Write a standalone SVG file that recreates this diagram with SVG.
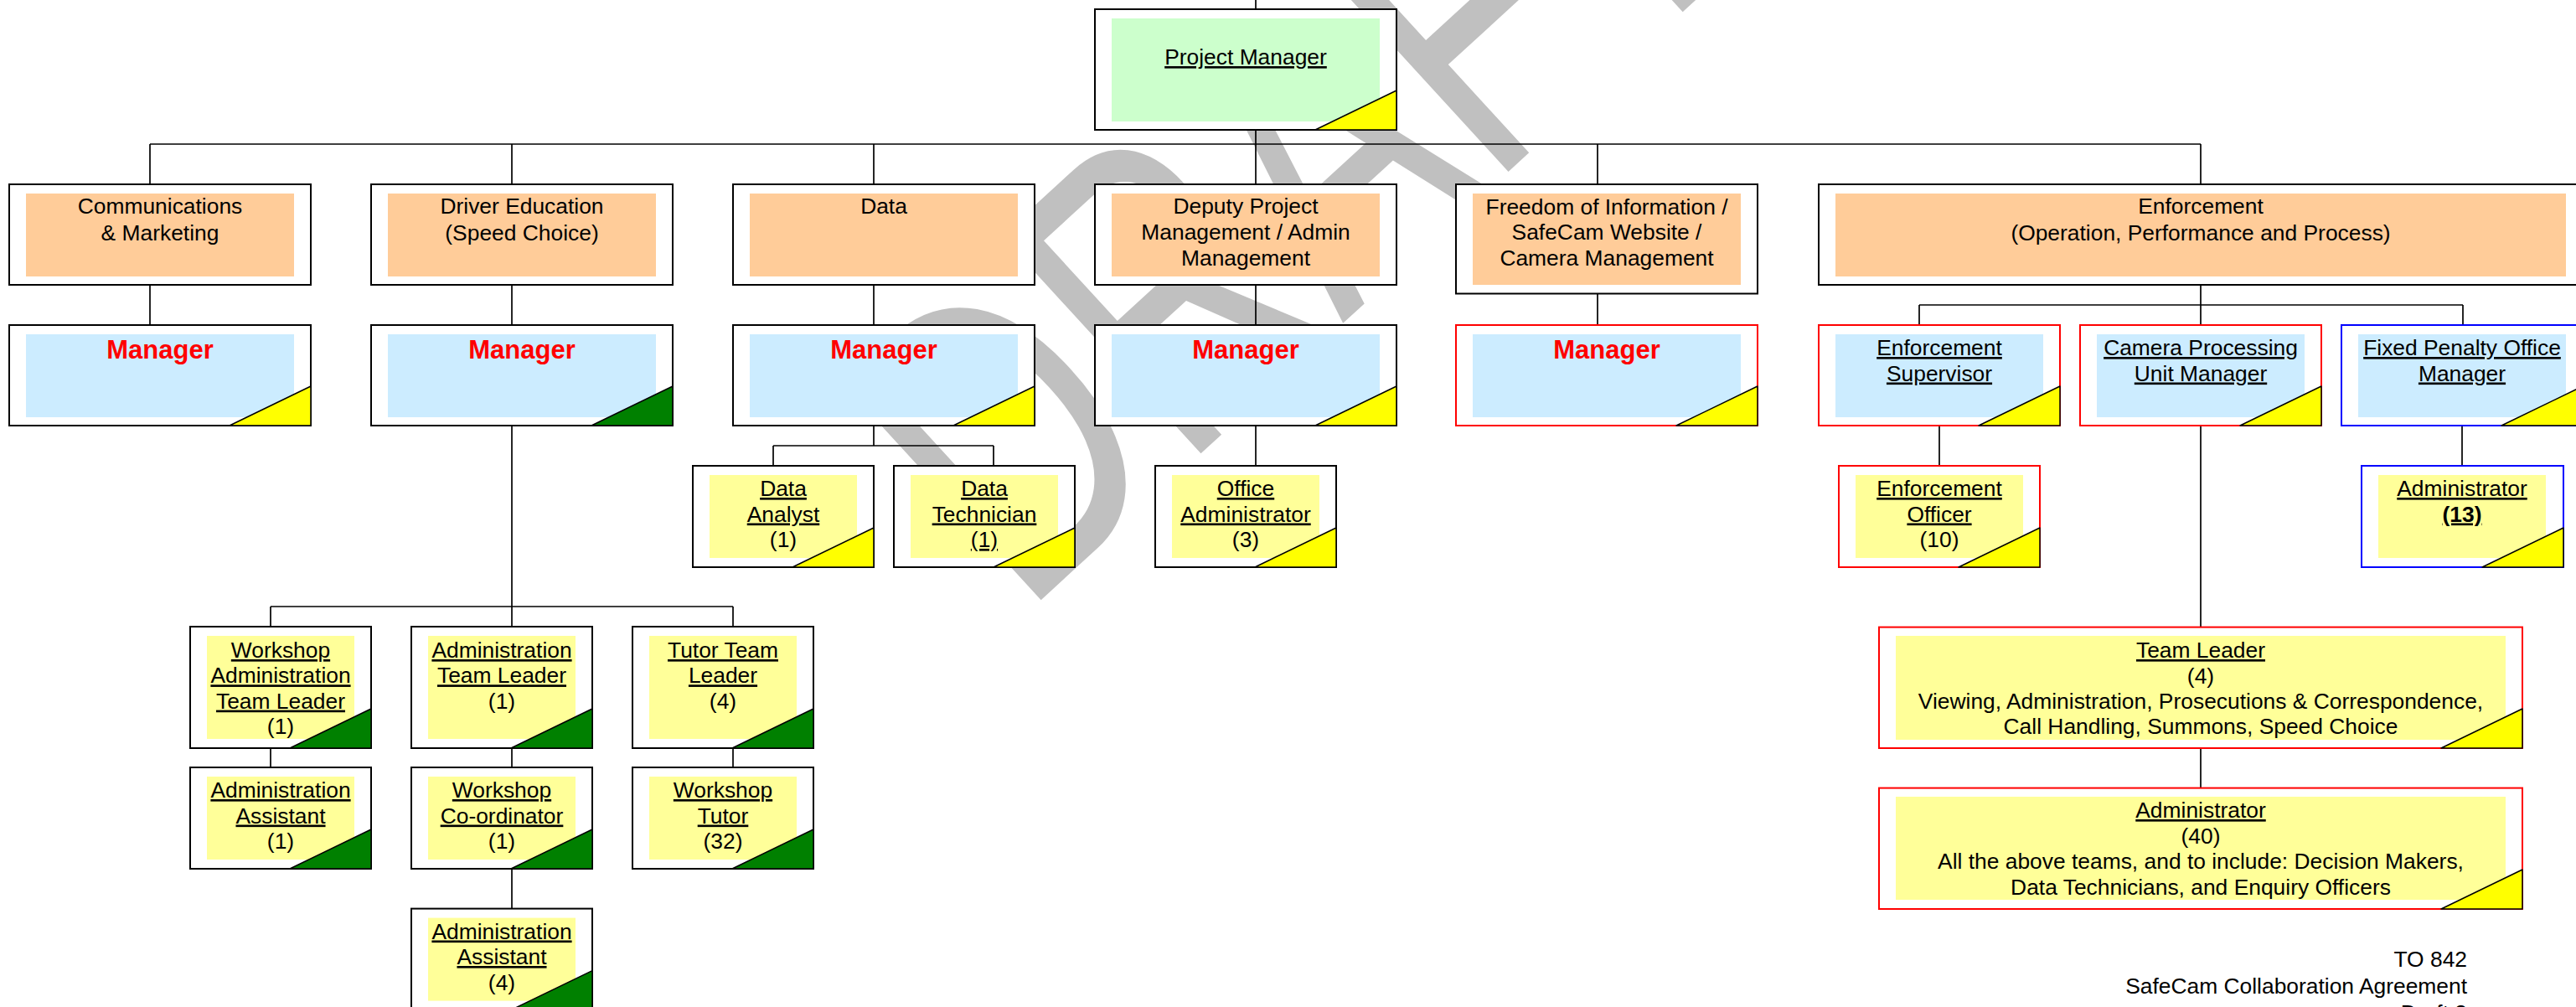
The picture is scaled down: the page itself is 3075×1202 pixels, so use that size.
<svg xmlns="http://www.w3.org/2000/svg" width="3075" height="1202" viewBox="0 0 3075 1202">
<style>
.bx{fill:#fff;stroke:#000;stroke-width:2}
.red{stroke:#f00}
.blu{stroke:#00f}
.pe{fill:#FFCC99}
.lb{fill:#CCECFF}
.lg{fill:#CCFFCC}
.ly{fill:#FFFF99}
.ty{fill:#FFFF00;stroke:#000;stroke-width:1.5;stroke-linejoin:round}
.tg{fill:#008000;stroke:#000;stroke-width:1.5;stroke-linejoin:round}
.c{stroke:#000;stroke-width:1.7;fill:none}
text{font-family:"Liberation Sans",Arial,Helvetica,sans-serif;font-size:26.4px;fill:#000;text-anchor:middle}
.u{text-decoration:underline}
.m{font-weight:bold;fill:#f00;font-size:31px}
.b{font-weight:bold}
.r{text-anchor:end}
.wm{fill:#C0C0C0;font-size:512px;text-anchor:start}
</style>
<rect width="3075" height="1202" fill="#fff"/>
<text class="wm" transform="translate(1221,736) rotate(-42.5) scale(0.70,1)">DRAFT</text>
<g id="connectors" class="c">
<path d="M1499,0V11M1499,155V172M179,172H2627M179,172V220M611,172V220M1043,172V220M1499,172V220M1907,172V220M2627,172V220"/>
<path d="M179,340V388M611,340V388M1043,340V388M1499,340V388M1907,350V388M2627,340V388M2291,364H2940M2291,364V388M2940,364V388"/>
<path d="M1043,508V532M923,532H1186M923,532V556M1186,532V556M1499,508V556"/>
<path d="M611,508V724M323,724H875M323,724V748M611,724V748M875,724V748M323,893V916M611,893V916M875,893V916M611,1037V1085"/>
<path d="M2315,508V556M2627,508V749M2627,893V941M2939,508V556"/>
</g>
<g id="project-manager">
<rect class="bx" x="1307" y="11" width="360" height="144"/>
<rect class="lg" x="1327" y="22" width="320" height="123"/>
<text class="u" x="1487" y="77">Project Manager</text>
<polygon class="ty" points="1570,155 1667,108 1667,155"/>
</g>
<g id="communications">
<rect class="bx" x="11" y="220" width="360" height="120"/>
<rect class="pe" x="31" y="231" width="320" height="99"/>
<text x="191" y="255">Communications</text>
<text x="191" y="286.5">&amp; Marketing</text>
</g>
<g id="communications-manager">
<rect class="bx" x="11" y="388" width="360" height="120"/>
<rect class="lb" x="31" y="399" width="320" height="99"/>
<text class="m" x="191" y="428">Manager</text>
<polygon class="ty" points="274,508 371,461 371,508"/>
</g>
<g id="driver-education">
<rect class="bx" x="443" y="220" width="360" height="120"/>
<rect class="pe" x="463" y="231" width="320" height="99"/>
<text x="623" y="255">Driver Education</text>
<text x="623" y="286.5">(Speed Choice)</text>
</g>
<g id="driver-education-manager">
<rect class="bx" x="443" y="388" width="360" height="120"/>
<rect class="lb" x="463" y="399" width="320" height="99"/>
<text class="m" x="623" y="428">Manager</text>
<polygon class="tg" points="706,508 803,461 803,508"/>
</g>
<g id="data">
<rect class="bx" x="875" y="220" width="360" height="120"/>
<rect class="pe" x="895" y="231" width="320" height="99"/>
<text x="1055" y="255">Data</text>
</g>
<g id="data-manager">
<rect class="bx" x="875" y="388" width="360" height="120"/>
<rect class="lb" x="895" y="399" width="320" height="99"/>
<text class="m" x="1055" y="428">Manager</text>
<polygon class="ty" points="1138,508 1235,461 1235,508"/>
</g>
<g id="deputy">
<rect class="bx" x="1307" y="220" width="360" height="120"/>
<rect class="pe" x="1327" y="231" width="320" height="99"/>
<text x="1487" y="255">Deputy Project</text>
<text x="1487" y="286">Management / Admin</text>
<text x="1487" y="317">Management</text>
</g>
<g id="deputy-manager">
<rect class="bx" x="1307" y="388" width="360" height="120"/>
<rect class="lb" x="1327" y="399" width="320" height="99"/>
<text class="m" x="1487" y="428">Manager</text>
<polygon class="ty" points="1570,508 1667,461 1667,508"/>
</g>
<g id="foi">
<rect class="bx" x="1738" y="220" width="360" height="130.5"/>
<rect class="pe" x="1758" y="231" width="320" height="109"/>
<text x="1918" y="255.5">Freedom of Information /</text>
<text x="1918" y="286">SafeCam Website /</text>
<text x="1918" y="316.5">Camera Management</text>
</g>
<g id="foi-manager">
<rect class="bx red" x="1738" y="388" width="360" height="120"/>
<rect class="lb" x="1758" y="399" width="320" height="99"/>
<text class="m" x="1918" y="428">Manager</text>
<polygon class="ty" points="2001,508 2098,461 2098,508"/>
</g>
<g id="enforcement">
<rect class="bx" x="2171" y="220" width="912" height="120"/>
<rect class="pe" x="2191" y="231" width="872" height="99"/>
<text x="2627" y="255">Enforcement</text>
<text x="2627" y="286.5">(Operation, Performance and Process)</text>
</g>
<g id="enforcement-supervisor">
<rect class="bx red" x="2171" y="388" width="288" height="120"/>
<rect class="lb" x="2191" y="399" width="248" height="99"/>
<text class="u" x="2315" y="424">Enforcement</text>
<text class="u" x="2315" y="454.5">Supervisor</text>
<polygon class="ty" points="2362,508 2459,461 2459,508"/>
</g>
<g id="camera-processing">
<rect class="bx red" x="2483" y="388" width="288" height="120"/>
<rect class="lb" x="2503" y="399" width="248" height="99"/>
<text class="u" x="2627" y="424">Camera Processing</text>
<text class="u" x="2627" y="454.5">Unit Manager</text>
<polygon class="ty" points="2674,508 2771,461 2771,508"/>
</g>
<g id="fixed-penalty">
<rect class="bx blu" x="2795" y="388" width="288" height="120"/>
<rect class="lb" x="2815" y="399" width="248" height="99"/>
<text class="u" x="2939" y="424">Fixed Penalty Office</text>
<text class="u" x="2939" y="454.5">Manager</text>
<polygon class="ty" points="2986,508 3083,461 3083,508"/>
</g>
<g id="data-analyst">
<rect class="bx" x="827" y="556" width="216" height="121"/>
<rect class="ly" x="847" y="567" width="176" height="99"/>
<text class="u" x="935" y="592">Data</text>
<text class="u" x="935" y="622.5">Analyst</text>
<text x="935" y="653">(1)</text>
<polygon class="ty" points="946,677 1043,630 1043,677"/>
</g>
<g id="data-technician">
<rect class="bx" x="1067" y="556" width="216" height="121"/>
<rect class="ly" x="1087" y="567" width="176" height="99"/>
<text class="u" x="1175" y="592">Data</text>
<text class="u" x="1175" y="622.5">Technician</text>
<text class="u" x="1175" y="653">(1)</text>
<polygon class="ty" points="1186,677 1283,630 1283,677"/>
</g>
<g id="office-administrator">
<rect class="bx" x="1379" y="556" width="216" height="121"/>
<rect class="ly" x="1399" y="567" width="176" height="99"/>
<text class="u" x="1487" y="592">Office</text>
<text class="u" x="1487" y="622.5">Administrator</text>
<text x="1487" y="653">(3)</text>
<polygon class="ty" points="1498,677 1595,630 1595,677"/>
</g>
<g id="enforcement-officer">
<rect class="bx red" x="2195" y="556" width="240" height="121"/>
<rect class="ly" x="2215" y="567" width="200" height="99"/>
<text class="u" x="2315" y="592">Enforcement</text>
<text class="u" x="2315" y="622.5">Officer</text>
<text x="2315" y="653">(10)</text>
<polygon class="ty" points="2338,677 2435,630 2435,677"/>
</g>
<g id="fpo-administrator">
<rect class="bx blu" x="2819" y="556" width="241" height="121"/>
<rect class="ly" x="2839" y="567" width="200" height="99"/>
<text class="u" x="2939" y="592">Administrator</text>
<text class="u b" x="2939" y="622.5">(13)</text>
<polygon class="ty" points="2963,677 3060,630 3060,677"/>
</g>
<g id="workshop-admin-team-leader">
<rect class="bx" x="227" y="748" width="216" height="145"/>
<rect class="ly" x="247" y="759" width="176" height="123"/>
<text class="u" x="335" y="785">Workshop</text>
<text class="u" x="335" y="815.3">Administration</text>
<text class="u" x="335" y="845.6">Team Leader</text>
<text x="335" y="876">(1)</text>
<polygon class="tg" points="346,893 443,846 443,893"/>
</g>
<g id="admin-team-leader">
<rect class="bx" x="491" y="748" width="216" height="145"/>
<rect class="ly" x="511" y="759" width="176" height="123"/>
<text class="u" x="599" y="785">Administration</text>
<text class="u" x="599" y="815.3">Team Leader</text>
<text x="599" y="845.6">(1)</text>
<polygon class="tg" points="610,893 707,846 707,893"/>
</g>
<g id="tutor-team-leader">
<rect class="bx" x="755" y="748" width="216" height="145"/>
<rect class="ly" x="775" y="759" width="176" height="123"/>
<text class="u" x="863" y="785">Tutor Team</text>
<text class="u" x="863" y="815.3">Leader</text>
<text x="863" y="845.6">(4)</text>
<polygon class="tg" points="874,893 971,846 971,893"/>
</g>
<g id="admin-assistant-1">
<rect class="bx" x="227" y="916" width="216" height="121"/>
<rect class="ly" x="247" y="927" width="176" height="99"/>
<text class="u" x="335" y="952">Administration</text>
<text class="u" x="335" y="982.5">Assistant</text>
<text x="335" y="1013">(1)</text>
<polygon class="tg" points="346,1037 443,990 443,1037"/>
</g>
<g id="workshop-coordinator">
<rect class="bx" x="491" y="916" width="216" height="121"/>
<rect class="ly" x="511" y="927" width="176" height="99"/>
<text class="u" x="599" y="952">Workshop</text>
<text class="u" x="599" y="982.5">Co-ordinator</text>
<text x="599" y="1013">(1)</text>
<polygon class="tg" points="610,1037 707,990 707,1037"/>
</g>
<g id="workshop-tutor">
<rect class="bx" x="755" y="916" width="216" height="121"/>
<rect class="ly" x="775" y="927" width="176" height="99"/>
<text class="u" x="863" y="952">Workshop</text>
<text class="u" x="863" y="982.5">Tutor</text>
<text x="863" y="1013">(32)</text>
<polygon class="tg" points="874,1037 971,990 971,1037"/>
</g>
<g id="admin-assistant-4">
<rect class="bx" x="491" y="1084.6" width="216" height="121"/>
<rect class="ly" x="511" y="1095.6" width="176" height="99"/>
<text class="u" x="599" y="1120.5">Administration</text>
<text class="u" x="599" y="1151">Assistant</text>
<text x="599" y="1181.5">(4)</text>
<polygon class="tg" points="610,1205.6 707,1158.6 707,1205.6"/>
</g>
<g id="team-leader">
<rect class="bx red" x="2243" y="748.6" width="768" height="144.4"/>
<rect class="ly" x="2263" y="759" width="728" height="124"/>
<text class="u" x="2627" y="785">Team Leader</text>
<text x="2627" y="815.5">(4)</text>
<text x="2627" y="846">Viewing, Administration, Prosecutions &amp; Correspondence,</text>
<text x="2627" y="876">Call Handling, Summons, Speed Choice</text>
<polygon class="ty" points="2914,893 3011,846 3011,893"/>
</g>
<g id="administrator-40">
<rect class="bx red" x="2243" y="940.6" width="768" height="144.4"/>
<rect class="ly" x="2263" y="951" width="728" height="123"/>
<text class="u" x="2627" y="976">Administrator</text>
<text x="2627" y="1006.5">(40)</text>
<text x="2627" y="1037">All the above teams, and to include: Decision Makers,</text>
<text x="2627" y="1067.5">Data Technicians, and Enquiry Officers</text>
<polygon class="ty" points="2914,1085 3011,1038 3011,1085"/>
</g>
<g id="footer">
<text class="r" x="2945" y="1153.6">TO 842</text>
<text class="r" x="2945" y="1185.8">SafeCam Collaboration Agreement</text>
<text class="r" x="2945" y="1218">Draft 3</text>
</g>
</svg>
